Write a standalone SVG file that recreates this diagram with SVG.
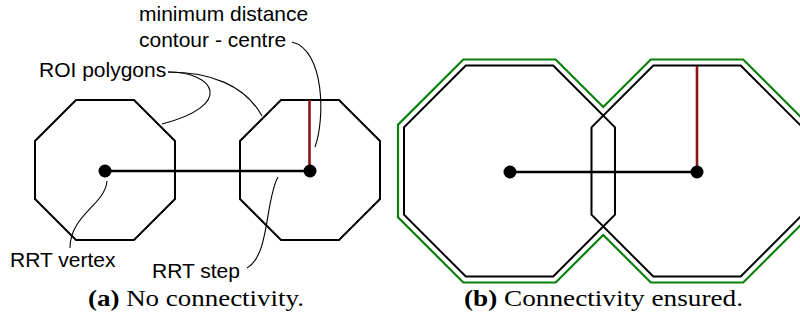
<svg xmlns="http://www.w3.org/2000/svg" width="800" height="321" viewBox="0 0 800 321">
<style>
.oct{fill:none;stroke:#000;stroke-width:2;stroke-linejoin:miter}
.grn{fill:none;stroke:#0a800a;stroke-width:2.2;stroke-linejoin:miter}
.red{stroke:#8b1414;stroke-width:2.6}
.step{stroke:#000;stroke-width:2.5}
.dot{fill:#000}
.lead{fill:none;stroke:#000;stroke-width:1.1}
.lbl{font-family:"Liberation Sans",Arial,sans-serif;font-size:21px;fill:#000}
.cap{font-family:"Liberation Serif","Times New Roman",serif;font-size:23px;fill:#000}
.capb{font-weight:bold}
</style>
<rect width="800" height="321" fill="#fff"/>
<g id="panel-a">
  <g id="roi-a-left"><polygon class="oct" points="76,100 134,100 175,141 175,199 134,240 76,240 35,199 35,141"/></g>
  <g id="roi-a-right"><polygon class="oct" points="281,100 339,100 380,141 380,199 339,240 281,240 240,199 240,141"/></g>
</g>
<g id="panel-b">
  <g id="union-outline"><path class="grn" d="M463.3,59.5 L555.7,59.5 L603.25,107 L650.8,59.5 L743.2,59.5 L808.5,124.8 L808.5,217.2 L743.2,282.5 L650.8,282.5 L603.25,235 L555.7,282.5 L463.3,282.5 L398,217.2 L398,124.8 Z"/></g>
  <g id="roi-b-left"><polygon class="oct" points="465.8,65.5 553.2,65.5 615,127.3 615,214.7 553.2,276.5 465.8,276.5 404,214.7 404,127.3"/></g>
  <g id="roi-b-right"><polygon class="oct" points="653.3,65.5 740.7,65.5 802.5,127.3 802.5,214.7 740.7,276.5 653.3,276.5 591.5,214.7 591.5,127.3"/></g>
</g>
<g id="connectors">
  <line class="step" x1="105" y1="171" x2="310" y2="171"/>
  <line class="red" x1="309.5" y1="100" x2="309.5" y2="171"/>
  <line class="step" x1="510" y1="172" x2="697" y2="172"/>
  <line class="red" x1="697" y1="66" x2="697" y2="172"/>
  <path class="lead" d="M168,72 C215,72 235,105 162,124"/>
  <path class="lead" d="M168,72 C210,72 245,85 262,116"/>
  <path class="lead" d="M292,42 C325,50 325,120 315,147"/>
  <path class="lead" d="M107,181 C105,205 70,215 70,248"/>
  <path class="lead" d="M247,268 C270,255 265,200 278,177"/>
</g>
<g id="vertices">
  <circle class="dot" cx="105" cy="171" r="6.5"/>
  <circle class="dot" cx="310" cy="171" r="6.5"/>
  <circle class="dot" cx="510" cy="172" r="6.5"/>
  <circle class="dot" cx="697" cy="172" r="6.5"/>
</g>
<g id="labels">
  <text class="lbl" x="139" y="21">minimum distance</text>
  <text class="lbl" x="139" y="47">contour - centre</text>
  <text class="lbl" x="39" y="77">ROI polygons</text>
  <text class="lbl" x="10" y="267">RRT vertex</text>
  <text class="lbl" x="152" y="278">RRT step</text>
  <text class="cap" x="88" y="306" textLength="216" lengthAdjust="spacingAndGlyphs"><tspan class="capb">(a)</tspan> No connectivity.</text>
  <text class="cap" x="464" y="306" textLength="279" lengthAdjust="spacingAndGlyphs"><tspan class="capb">(b)</tspan> Connectivity ensured.</text>
</g>
</svg>
